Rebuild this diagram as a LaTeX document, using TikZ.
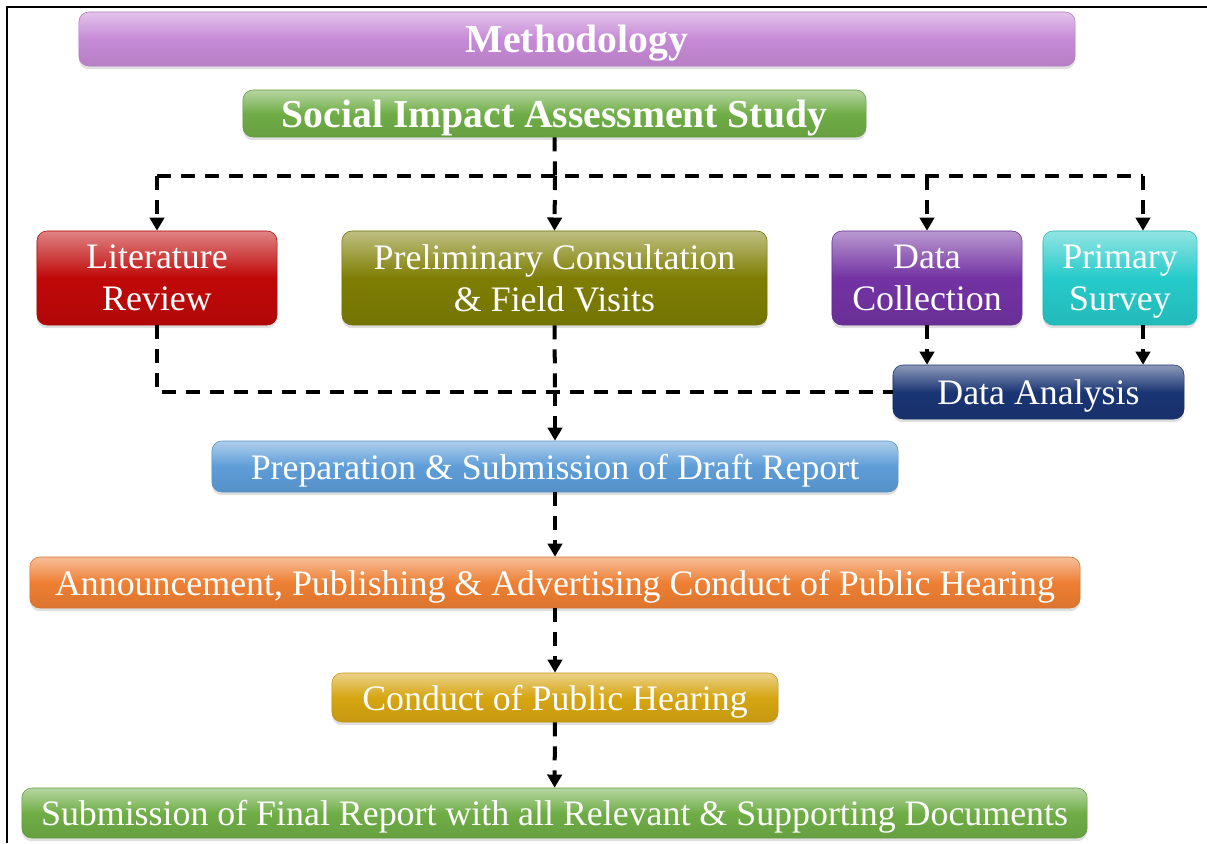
\documentclass[tikz,border=0pt]{standalone}
\usepackage{fontspec}
\setmainfont{Liberation Serif}
\usetikzlibrary{positioning,shadows,arrows.meta}
\definecolor{methViolet}{HTML}{C68AD6}
\definecolor{siaGreen}{HTML}{6FAD46}
\definecolor{litRed}{HTML}{C00808}
\definecolor{prelimOlive}{HTML}{7E7E04}
\definecolor{colPurple}{HTML}{7333A3}
\definecolor{survCyan}{HTML}{26CACA}
\definecolor{anaNavy}{HTML}{1A3574}
\definecolor{draftBlue}{HTML}{5E9DD8}
\definecolor{annOrange}{HTML}{EE7F33}
\definecolor{condGold}{HTML}{D6A511}
\tikzset {
    style box/.style={
        top color=#1!50!white,
        bottom color=#1!92!black,
        middle color=#1,
        draw=#1!90!black,
        thin,
        text=white,
        rectangle, % Set the shape as a rectangle
        rounded corners=.25cm,
        inner sep=0pt,
        text depth=0pt,
        align=center,
        drop shadow={shadow xshift=0pt, shadow yshift=-.08cm, opacity=.25},
        font=\fontsize{25.5}{30}\selectfont,
    },
    style head/.style={
        font=\fontsize{28.2}{32}\selectfont\bfseries,
    },
    style link/.style={
        draw=black,
        line width=.1cm,
        dash pattern=on .35cm off .25cm,
    },
    style arrow/.style={
        style link,
        -{Triangle[length=.33cm, width=.36cm]},
    },
}
\begin{document}
\begin{tikzpicture}[x=.025cm, y=-.025cm]
\useasboundingbox (0,0) rectangle (1207,843);
\draw[line width=.05cm] (7,843) -- (7,7) -- (1207,7);

\node[style box=methViolet, style head, minimum width=24.9cm, minimum height=1.35cm] at (577,39) (meth) {Methodology};
\node[style box=siaGreen, style head, minimum width=15.575cm, minimum height=1.175cm] at (554.5,113.5) (sia) {Social Impact Assessment Study};

\node[style box=litRed, minimum width=6cm, minimum height=2.35cm] at (157,278) (litRev) {Literature\\Review};
\node[style box=prelimOlive, minimum width=10.625cm, minimum height=2.35cm] at (554.5,278) (prelim) {Preliminary Consultation\\\& Field Visits};
\node[style box=colPurple, minimum width=4.75cm, minimum height=2.35cm] at (927,278) (dataCol) {Data\\Collection};
\node[style box=survCyan, minimum width=3.85cm, minimum height=2.35cm] at (1120,278) (primSurv) {Primary\\Survey};
\node[style box=anaNavy, minimum width=7.275cm, minimum height=1.35cm] at (1038.5,392) (dataAn) {Data Analysis};

\node[style box=draftBlue, minimum width=17.15cm, minimum height=1.275cm] at (555,466.5) (draft) {Preparation \& Submission of Draft Report};
\node[style box=annOrange, minimum width=26.25cm, minimum height=1.275cm] at (555,582.5) (announce) {Announcement, Publishing \& Advertising Conduct of Public Hearing};
\node[style box=condGold, minimum width=11.15cm, minimum height=1.225cm] at (555,697.5) (conduct) {Conduct of Public Hearing};
\node[style box=siaGreen, minimum width=26.625cm, minimum height=1.25cm] at (554.5,813) (final) {Submission of Final Report with all Relevant \& Supporting Documents};

\coordinate (busTop) at (555,176);
\coordinate (busLow) at (555,392);
\coordinate (survTap) at (1143,176);

\draw[style link] (sia.south) -- (busTop);
\draw[style link] (litRev.north |- busTop) -- (survTap);
\draw[style arrow] (litRev.north |- busTop) -- (litRev.north);
\draw[style arrow] (busTop) -- (prelim.north);
\draw[style arrow] (dataCol.north |- busTop) -- (dataCol.north);
\draw[style arrow] (survTap) -- (primSurv.north -| survTap);
\draw[style link] (litRev.south) -- (litRev.south |- busLow) -- (dataAn.west);
\draw[style link] (prelim.south) -- (busLow);
\draw[style arrow] (busLow) -- (draft.north);
\draw[style arrow] (dataCol.south) -- (dataCol.south |- dataAn.north);
\draw[style arrow] (primSurv.south -| survTap) -- (survTap |- dataAn.north);
\draw[style arrow] (draft) -- (announce);
\draw[style arrow] (announce) -- (conduct);
\draw[style arrow] (conduct) -- (final);
\end{tikzpicture}
\end{document}
